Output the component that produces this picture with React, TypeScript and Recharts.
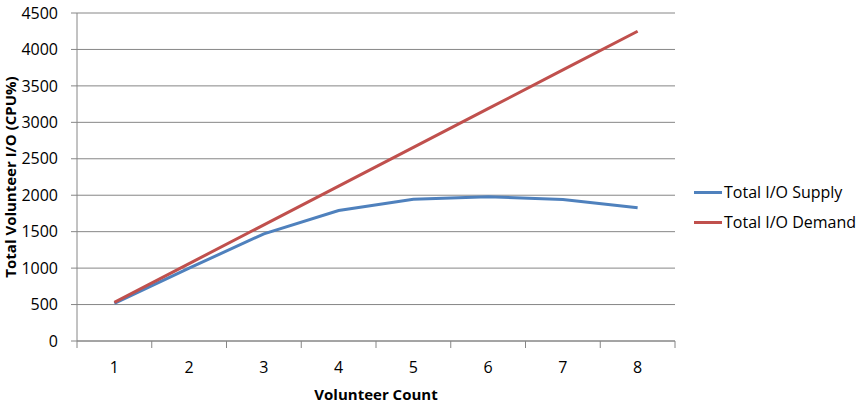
import React from 'react';
import { LineChart, Line, XAxis, YAxis, CartesianGrid, Legend } from 'recharts';

const categories = ['1', '2', '3', '4', '5', '6', '7', '8'];
const supply = [515, 1000, 1470, 1790, 1945, 1978, 1942, 1828];
const demand = [531, 1062, 1594, 2125, 2656, 3187, 3719, 4250];
const yTicks = [0, 500, 1000, 1500, 2000, 2500, 3000, 3500, 4000, 4500];
const seriesOrder = ['supply', 'demand'];

const data = categories.map((c, i) => ({ count: c, supply: supply[i], demand: demand[i] }));

const W = 862;
const H = 408;
const M = { top: 13, right: 187, left: 0, bottom: 0 };
const Y_W = 77;
const X_H = 67;
const GRID = '#868686';
const FONT = '"Open Sans", sans-serif';
const bandW = (W - M.left - M.right - Y_W) / categories.length;

const XTick = (props: any) => {
  const { x, y, payload, index } = props;
  return (
    <g>
      <line x1={x - bandW / 2} x2={x - bandW / 2} y1={y} y2={y + 7} stroke={GRID} strokeWidth={1} />
      {index === categories.length - 1 && (
        <line x1={x + bandW / 2} x2={x + bandW / 2} y1={y} y2={y + 7} stroke={GRID} strokeWidth={1} />
      )}
      <text x={x} y={y + 32} textAnchor="middle" fontSize={16} fill="#000">
        {payload.value}
      </text>
    </g>
  );
};

const LegendContent = (props: any) => {
  const payload = [...(props.payload || [])].sort(
    (a: any, b: any) => seriesOrder.indexOf(a.dataKey) - seriesOrder.indexOf(b.dataKey)
  );
  return (
    <div style={{ fontFamily: FONT, fontSize: 16, color: '#000' }}>
      {payload.map((p: any, i: number) => (
        <div key={i} style={{ display: 'flex', alignItems: 'center', height: 30 }}>
          <span style={{ display: 'inline-block', width: 28, height: 3, background: p.color, marginRight: 2 }} />
          <span>{p.value}</span>
        </div>
      ))}
    </div>
  );
};

export default function App() {
  return (
    <div style={{ position: 'absolute', left: 0, top: 0, width: W, height: H, background: '#fff', fontFamily: FONT }}>
      <LineChart width={W} height={H} data={data} margin={M}>
        <CartesianGrid horizontal={true} vertical={false} stroke={GRID} strokeDasharray="" />
        <XAxis
          dataKey="count"
          scale="band"
          height={X_H}
          axisLine={{ stroke: GRID }}
          tickLine={false}
          tickSize={0}
          tickMargin={0}
          tick={<XTick />}
          interval={0}
          label={{ value: 'Volunteer Count', position: 'insideBottom', offset: 8, fontSize: 15, fontWeight: 'bold', fill: '#000' }}
        />
        <YAxis
          width={Y_W}
          domain={[0, 4500]}
          ticks={yTicks}
          interval={0}
          axisLine={{ stroke: GRID }}
          tickLine={{ stroke: GRID }}
          tickSize={6}
          tickMargin={13}
          tick={{ fontSize: 16, fill: '#000' }}
          label={{
            value: 'Total Volunteer I/O (CPU%)',
            angle: -90,
            position: 'insideLeft',
            offset: 11,
            fontSize: 15,
            fontWeight: 'bold',
            fill: '#000',
            style: { textAnchor: 'middle' },
          }}
        />
        <Legend
          layout="horizontal"
          verticalAlign="middle"
          align="center"
          content={<LegendContent />}
          wrapperStyle={{ left: 694, top: 177, width: 168 }}
        />
        <Line type="linear" dataKey="supply" name="Total I/O Supply" stroke="#4F81BD" strokeWidth={3} dot={false} isAnimationActive={false} />
        <Line type="linear" dataKey="demand" name="Total I/O Demand" stroke="#C0504D" strokeWidth={3} dot={false} isAnimationActive={false} />
      </LineChart>
    </div>
  );
}
